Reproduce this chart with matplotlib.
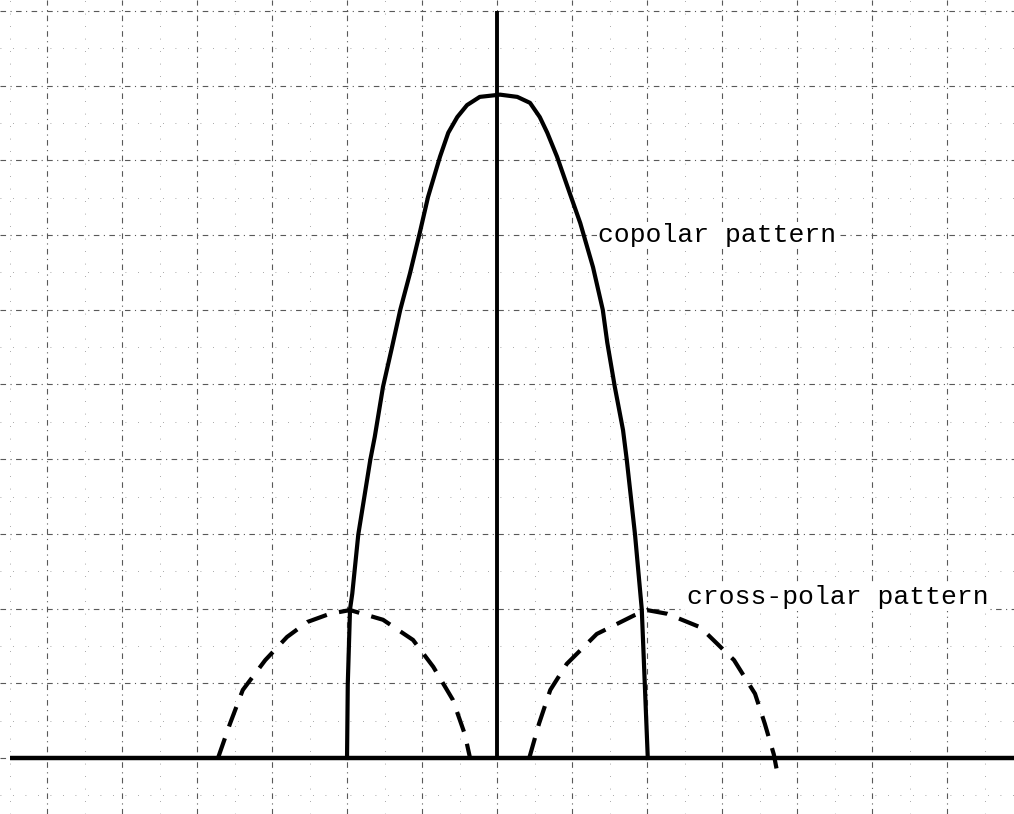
import matplotlib.pyplot as plt
import numpy as np

# readings in grid units (x: one grid step, y: one grid step above the baseline)
co_x = [-2.0, -1.99, -1.96, -1.93, -1.85, -1.69, -1.63, -1.52, -1.40, -1.29, -1.16,
        -1.03, -0.92, -0.76, -0.65, -0.53, -0.40, -0.23, 0.04, 0.27, 0.44, 0.57,
        0.67, 0.80, 0.97, 1.11, 1.28, 1.41, 1.47, 1.57, 1.68, 1.73, 1.84, 1.93, 2.01]
co_y = [0.0, 0.99, 1.99, 2.20, 2.99, 3.99, 4.30, 4.97, 5.50, 6.00, 6.49,
        7.03, 7.51, 8.05, 8.37, 8.58, 8.74, 8.85, 8.88, 8.85, 8.77, 8.58,
        8.37, 8.05, 7.56, 7.16, 6.57, 6.00, 5.56, 4.97, 4.39, 3.99, 2.99, 1.99, 0.0]

xl_left_x = [-3.72, -3.56, -3.39, -3.09, -2.80, -2.53, -2.23, -1.96, -1.52, -1.12,
             -0.85, -0.59, -0.43, -0.36]
xl_left_y = [0.0, 0.46, 0.91, 1.31, 1.62, 1.82, 1.93, 1.98, 1.85, 1.58,
             1.22, 0.78, 0.32, 0.0]
xl_right_x = [0.43, 0.56, 0.71, 0.93, 1.33, 1.83, 2.0, 2.27, 2.71, 3.16,
              3.44, 3.57, 3.69, 3.73]
xl_right_y = [0.0, 0.46, 0.91, 1.26, 1.66, 1.91, 1.98, 1.93, 1.75, 1.31,
              0.86, 0.46, 0.05, -0.16]

fig = plt.figure(figsize=(10.14, 8.14), dpi=100)
ax = fig.add_axes([0, 0, 1, 1])

ax.set_xticks(np.arange(-6, 7, 1))
ax.set_yticks(np.arange(0, 11, 1))
ax.set_xticks(np.arange(-6.5, 7, 1), minor=True)
ax.set_yticks(np.arange(-0.5, 10.5, 1), minor=True)
ax.set_xlim(-6.627, 6.893)
ax.set_ylim(-0.75, 10.147)
ax.tick_params(which='both', length=0, labelbottom=False, labelleft=False)
for s in ax.spines.values():
    s.set_visible(False)
ax.grid(True, which='major', color='0.35', lw=0.8, ls=(0, (5, 4, 1, 4)))
ax.grid(True, which='minor', color='0.55', lw=0.6, ls=(0, (1, 14)))

# axes of the pattern plot
ax.plot([-6.49, 6.9], [0, 0], color='black', lw=3.2, solid_capstyle='butt')
ax.plot([0, 0], [0, 10.0], color='black', lw=2.8, solid_capstyle='butt')

ax.plot(co_x, co_y, color='black', lw=3.0)
ax.plot(xl_left_x, xl_left_y, color='black', lw=3.0, ls=(0, (5, 3)))
ax.plot(xl_right_x, xl_right_y, color='black', lw=3.0, ls=(0, (5, 3)))

box = dict(facecolor='white', edgecolor='none', pad=1)
ax.text(1.35, 7.0, "copolar pattern", family='Liberation Mono', fontsize=19,
        va='center', ha='left', bbox=box)
ax.text(2.53, 2.15, "cross-polar pattern", family='Liberation Mono', fontsize=19,
        va='center', ha='left', bbox=box)

fig.savefig('out.png', dpi=100)
